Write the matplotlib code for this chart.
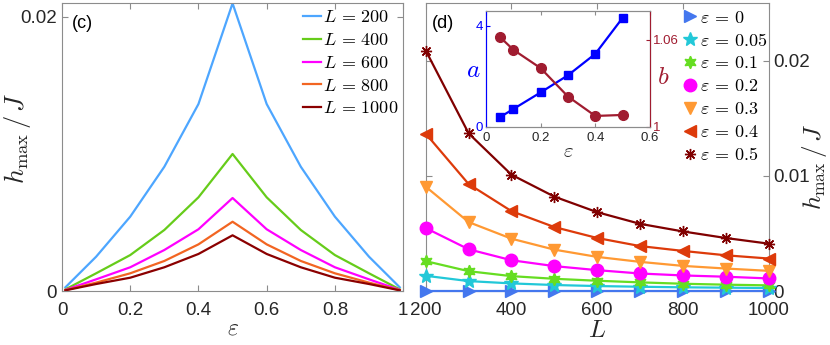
import numpy as np
import matplotlib
matplotlib.use("Agg")
import matplotlib.pyplot as plt

plt.rcParams['font.family'] = ['Liberation Sans', 'DejaVu Sans']
plt.rcParams['mathtext.fontset'] = 'cm'

# panel (c): h_max/J vs epsilon for several L
eps_c = [0.01, 0.1, 0.2, 0.3, 0.4, 0.5, 0.6, 0.7, 0.8, 0.9, 0.99]
h_L200 = [0.00027, 0.0025, 0.00542, 0.00906, 0.01363, 0.02097, 0.01363, 0.00906, 0.00542, 0.0025, 0.00027]
h_L400 = [0.00012, 0.00129, 0.00262, 0.00445, 0.00683, 0.00999, 0.00683, 0.00445, 0.00262, 0.00129, 0.00012]
h_L600 = [0.00008, 0.00085, 0.00173, 0.00299, 0.0045, 0.00678, 0.0045, 0.00299, 0.00173, 0.00085, 0.00008]
h_L800 = [0.00006, 0.00061, 0.00129, 0.00219, 0.0034, 0.00505, 0.0034, 0.00219, 0.00129, 0.00061, 0.00006]
h_L1000 = [0.00005, 0.00051, 0.00097, 0.00173, 0.0027, 0.00406, 0.0027, 0.00173, 0.00097, 0.00051, 0.00005]
L_labels = ['200', '400', '600', '800', '1000']

# panel (d): h_max/J vs L for several epsilon
L_d = [200, 300, 400, 500, 600, 700, 800, 900, 1000]
h_e0 = [0, 0, 0, 0, 0, 0, 0, 0, 0]
h_e005 = [0.00132, 0.00086, 0.00066, 0.00052, 0.00043, 0.00037, 0.00032, 0.00029, 0.00026]
h_e01 = [0.00259, 0.00172, 0.00129, 0.00106, 0.00089, 0.00075, 0.00063, 0.00055, 0.00049]
h_e02 = [0.00546, 0.00362, 0.00267, 0.00216, 0.00181, 0.00152, 0.00135, 0.00124, 0.00109]
h_e03 = [0.00905, 0.00598, 0.00454, 0.00359, 0.00296, 0.00253, 0.00218, 0.00195, 0.00175]
h_e04 = [0.01365, 0.00928, 0.00693, 0.00555, 0.0046, 0.0039, 0.00348, 0.0031, 0.00282]
h_e05 = [0.02086, 0.01368, 0.01009, 0.00819, 0.00684, 0.00583, 0.00517, 0.0046, 0.00411]
eps_labels = ['0', '0.05', '0.1', '0.2', '0.3', '0.4', '0.5']

# inset: fit parameters a, b vs epsilon
eps_in = [0.05, 0.1, 0.2, 0.3, 0.4, 0.5]
a_fit = [0.37, 0.70, 1.36, 2.04, 2.89, 4.32]
b_fit = [1.0621, 1.0531, 1.0404, 1.0208, 1.0074, 1.0081]

frame = '#8c8c8c'
txt = '#262626'

def style_ax(ax):
    for s in ax.spines.values():
        s.set_color(frame)
    ax.tick_params(direction='in', color=frame, labelcolor=txt, labelsize=13.5,
                   top=True, right=True, length=4)
    ax.tick_params(axis='x', pad=8)

fig = plt.figure(figsize=(8.3, 3.45), dpi=100)

# ---- (c)
ax1 = fig.add_axes([0.0747, 0.1565, 0.411, 0.835])
c_colors = ['#4da6ff', '#66cc1a', '#ff00ff', '#f26522', '#8b0000']
for h, lab, c in zip([h_L200, h_L400, h_L600, h_L800, h_L1000], L_labels, c_colors):
    ax1.plot(eps_c, h, color=c, lw=1.6, label=r'$L\,=\,%s$' % lab)
ax1.set_xlim(0, 1)
ax1.set_ylim(0, 0.021)
ax1.set_xticks([0, 0.2, 0.4, 0.6, 0.8, 1])
ax1.set_xticklabels(['0', '0.2', '0.4', '0.6', '0.8', '1'])
ax1.set_yticks([0, 0.02])
ax1.set_yticklabels(['0', '0.02'])
style_ax(ax1)
ax1.set_xlabel(r'$\varepsilon$', fontsize=17, labelpad=-1, color=txt)
ax1.set_ylabel(r'$h_{\max}\,/\,J$', fontsize=19, color=txt)
ax1.yaxis.set_label_coords(-0.085, 0.53)
ax1.text(0.03, 0.93, '(c)', transform=ax1.transAxes, fontsize=13, color='k', va='center')
ax1.legend(loc='upper left', bbox_to_anchor=(0.707, 0.978), frameon=False,
           fontsize=13, handlelength=1.0, handletextpad=0.1, labelspacing=0.32,
           borderaxespad=0, borderpad=0)

# ---- (d)
ax2 = fig.add_axes([0.513, 0.1565, 0.413, 0.835])
d_series = [h_e0, h_e005, h_e01, h_e02, h_e03, h_e04, h_e05]
d_colors = ['#4477ee', '#22c8d8', '#66dd22', '#ff00ff', '#ff9933', '#dd3a0a', '#800000']
d_markers = ['>', '*', (6, 1, 0), 'o', 'v', '<', (8, 2, 0)]
d_ms = [8, 10, 9, 9, 9, 9, 8]
for h, lab, c, m, ms in zip(d_series, eps_labels, d_colors, d_markers, d_ms):
    ax2.plot(L_d, h, color=c, lw=1.6, marker=m, ms=ms, mec=c, mfc=c,
             label=r'$\varepsilon\,=\,%s$' % lab, clip_on=False, zorder=3)
ax2.set_xlim(200, 1000)
ax2.set_ylim(0, 0.025)
ax2.set_xticks([200, 400, 600, 800, 1000])
ax2.set_yticks([0, 0.01, 0.02])
ax2.set_yticklabels(['0', '0.01', '0.02'])
style_ax(ax2)
ax2.tick_params(labelleft=False, labelright=True)
ax2.yaxis.set_label_position('right')
ax2.set_xlabel(r'$L$', fontsize=18, labelpad=-1, color=txt)
ax2.set_ylabel(r'$h_{\max}\,/\,J$', fontsize=18, color=txt)
ax2.yaxis.set_label_coords(1.092, 0.43)
ax2.text(0.018, 0.93, '(d)', transform=ax2.transAxes, fontsize=13, color='k', va='center')
leg = ax2.legend(loc='upper left', bbox_to_anchor=(0.749, 0.977), frameon=False,
                 fontsize=13, handlelength=0.8, handletextpad=0.15, labelspacing=0.33,
                 borderaxespad=0, borderpad=0, numpoints=1)
for lh in leg.get_lines():
    lh.set_linestyle('None')

# ---- inset
ax3 = fig.add_axes([0.5855, 0.6328, 0.1976, 0.336])
blue = '#0000ff'
wine = '#a01c30'
ax3.plot(eps_in, a_fit, color=blue, lw=1.6, marker='s', ms=6, mfc=blue, mec=blue)
ax3.set_xlim(0, 0.6)
ax3.set_ylim(0, 4.6)
ax3.set_xticks([0, 0.2, 0.4, 0.6])
ax3.set_xticklabels(['0', '0.2', '0.4', '0.6'])
ax3.set_yticks([0, 4])
ax3.tick_params(direction='in', labelsize=9.5, length=3, top=True, color=frame,
                labelcolor=txt)
ax3.tick_params(axis='y', colors=blue, labelcolor=blue, pad=2)
ax3.set_xlabel(r'$\varepsilon$', fontsize=15, labelpad=-1, color=txt)
ax3.set_ylabel(r'$a$', fontsize=18, color=blue, rotation=0, va='center', ha='center')
ax3.yaxis.set_label_coords(-0.079, 0.49)
for s in ['top', 'bottom']:
    ax3.spines[s].set_color(frame)
ax3.spines['left'].set_color(blue)

ax4 = ax3.twinx()
ax4.plot(eps_in, b_fit, color=wine, lw=1.6, marker='o', ms=7, mfc=wine, mec=wine)
ax4.set_ylim(1, 1.08)
ax4.set_yticks([1, 1.06])
ax4.set_yticklabels(['1', '1.06'])
ax4.tick_params(direction='in', labelsize=9.5, length=3, colors=wine, labelcolor=wine, pad=2)
ax4.spines['right'].set_color(wine)
ax4.spines['left'].set_color(blue)
ax4.spines['top'].set_color(frame)
ax4.spines['bottom'].set_color(frame)
ax4.set_ylabel(r'$b$', fontsize=18, color=wine, rotation=0, va='center', ha='center')
ax4.yaxis.set_label_coords(1.079, 0.43)

fig.savefig('out.png', dpi=100)
